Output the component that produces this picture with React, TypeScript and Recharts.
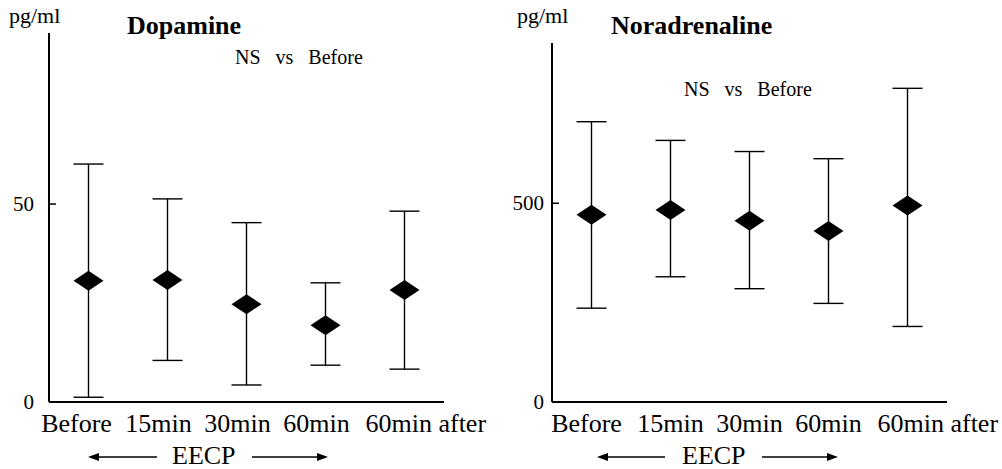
import { ComposedChart, ErrorBar, Line, XAxis, YAxis } from "recharts";

const SERIF = "'Liberation Serif', 'Times New Roman', serif";

// Sampling times (x categories), shared by both panels
const TIMEPOINTS = ["Before", "15min", "30min", "60min", "60min after"];

// Dopamine, pg/ml: mean and the ends of the error bars
const DOPAMINE_MEAN = [30.6, 30.8, 24.7, 19.4, 28.3];
const DOPAMINE_LOW = [1.2, 10.5, 4.3, 9.3, 8.3];
const DOPAMINE_HIGH = [60.1, 51.3, 45.3, 30.1, 48.2];
const DOPAMINE_TICKS = [0, 50];

// Noradrenaline, pg/ml
const NORAD_MEAN = [471, 483, 456, 430, 494];
const NORAD_LOW = [236, 315, 285, 248, 190];
const NORAD_HIGH = [705, 658, 630, 612, 789];
const NORAD_TICKS = [0, 500];

type Row = { label: string; mean: number; err: [number, number] };

function buildRows(mean: number[], low: number[], high: number[]): Row[] {
  return TIMEPOINTS.map((label, i) => ({
    label,
    mean: mean[i],
    err: [mean[i] - low[i], high[i] - mean[i]],
  }));
}

function Diamond(props: any) {
  const { cx, cy, index } = props;
  if (cx == null || cy == null) return <g key={index} />;
  return (
    <polygon
      key={index}
      points={`${cx - 15},${cy} ${cx},${cy - 10} ${cx + 15},${cy} ${cx},${cy + 10}`}
      fill="#000"
    />
  );
}

// x labels: the long last one starts just left of its point so it doesn't collide
function TimeTick(props: any) {
  const { x, y, payload, index, shift } = props;
  const last = index === TIMEPOINTS.length - 1;
  const dx = last ? shift.last : index === 0 ? shift.first : shift.mid;
  return (
    <text
      x={x + dx}
      y={y}
      dy={19}
      textAnchor={last ? "start" : "middle"}
      fontSize={26}
      fontFamily={SERIF}
      fill="#000"
    >
      {payload.value}
    </text>
  );
}

// y tick: label left of the axis plus a short mark pointing into the plot
function ValueTick(props: any) {
  const { x, y, payload, gap } = props;
  return (
    <g>
      {payload.value !== 0 && (
        <line x1={x + gap} y1={y} x2={x + gap + 7} y2={y} stroke="#000" strokeWidth={1.5} />
      )}
      <text x={x} y={y} dy={7} textAnchor="end" fontSize={21} fontFamily={SERIF} fill="#000">
        {payload.value}
      </text>
    </g>
  );
}

function Arrow({ x1, x2, y }: { x1: number; x2: number; y: number }) {
  // arrow head sits at x2
  const dir = x2 > x1 ? 1 : -1;
  return (
    <g>
      <line x1={x1} y1={y} x2={x2 - dir * 8} y2={y} stroke="#000" strokeWidth={1.3} />
      <polygon points={`${x2},${y} ${x2 - dir * 11},${y - 4} ${x2 - dir * 11},${y + 4}`} fill="#000" />
    </g>
  );
}

type PanelProps = {
  left: number;
  width: number;
  rows: Row[];
  ticks: number[];
  yMax: number;
  top: number;
  yAxisWidth: number;
  tickGap: number;
  labelShift: { first: number; mid: number; last: number };
  title: string;
  titleX: number;
  noteX: number;
  noteY: number;
  arrows: [number, number, number, number];
  eecpX: number;
};

function Panel(p: PanelProps) {
  return (
    <div style={{ position: "absolute", left: p.left, top: 0, width: p.width, height: 469 }}>
      <ComposedChart
        width={p.width}
        height={469}
        data={p.rows}
        margin={{ top: p.top, right: p.width - p.yAxisWidth - 395, bottom: 27, left: 0 }}
      >
        <XAxis
          dataKey="label"
          scale="band"
          axisLine={{ stroke: "#000", strokeWidth: 2 }}
          tickLine={false}
          tickSize={0}
          tickMargin={11}
          height={40}
          interval={0}
          tick={<TimeTick shift={p.labelShift} />}
        />
        <YAxis
          type="number"
          domain={[0, p.yMax]}
          ticks={p.ticks}
          width={p.yAxisWidth}
          axisLine={{ stroke: "#000", strokeWidth: 2 }}
          tickLine={false}
          tickSize={0}
          tickMargin={p.tickGap}
          tick={<ValueTick gap={p.tickGap} />}
        />
        <Line
          dataKey="mean"
          stroke="none"
          dot={<Diamond />}
          activeDot={false}
          isAnimationActive={false}
        >
          <ErrorBar dataKey="err" direction="y" width={15} stroke="#000" strokeWidth={1.4} />
        </Line>
      </ComposedChart>
      <svg
        width={p.width}
        height={469}
        style={{ position: "absolute", left: 0, top: 0, pointerEvents: "none" }}
      >
        <text x={p.left === 0 ? 9 : 17} y={23} fontSize={22} fontFamily={SERIF} fill="#000">
          pg/ml
        </text>
        <text x={p.titleX} y={34} fontSize={26} fontWeight="bold" fontFamily={SERIF} fill="#000">
          {p.title}
        </text>
        <text x={p.noteX} y={p.noteY} fontSize={20} wordSpacing={10} fontFamily={SERIF} fill="#000">
          NS vs Before
        </text>
        <Arrow x1={p.arrows[1]} x2={p.arrows[0]} y={457} />
        <text x={p.eecpX} y={464} fontSize={26} fontFamily={SERIF} fill="#000">
          EECP
        </text>
        <Arrow x1={p.arrows[2]} x2={p.arrows[3]} y={457} />
      </svg>
    </div>
  );
}

export default function App() {
  const dopamine = buildRows(DOPAMINE_MEAN, DOPAMINE_LOW, DOPAMINE_HIGH);
  const norad = buildRows(NORAD_MEAN, NORAD_LOW, NORAD_HIGH);
  return (
    <div
      style={{
        position: "absolute",
        left: 0,
        top: 0,
        width: 1002,
        height: 469,
        background: "#fff",
        overflow: "hidden",
      }}
    >
      <Panel
        left={0}
        width={500}
        rows={dopamine}
        ticks={DOPAMINE_TICKS}
        yMax={93.2}
        top={33}
        yAxisWidth={49}
        tickGap={15}
        labelShift={{ first: -12, mid: -9, last: -39 }}
        title="Dopamine"
        titleX={127}
        noteX={235}
        noteY={64}
        arrows={[88, 157, 252, 328]}
        eecpX={172}
      />
      <Panel
        left={500}
        width={502}
        rows={norad}
        ticks={NORAD_TICKS}
        yMax={903}
        top={43}
        yAxisWidth={52}
        tickGap={8}
        labelShift={{ first: -5, mid: 0, last: -30 }}
        title="Noradrenaline"
        titleX={111}
        noteX={184}
        noteY={96}
        arrows={[97, 165, 262, 338]}
        eecpX={182}
      />
    </div>
  );
}
